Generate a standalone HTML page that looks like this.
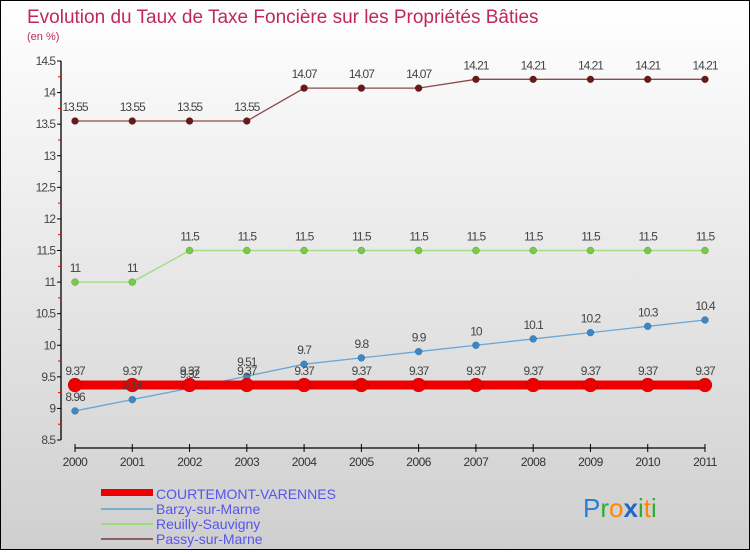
<!DOCTYPE html>
<html><head><meta charset="utf-8"><style>
html,body{margin:0;padding:0}
body{width:750px;height:550px;overflow:hidden;font-family:"Liberation Sans",sans-serif}
#wrap{position:relative;width:748px;height:548px;border:1px solid #000;background:linear-gradient(#ffffff,#cfcfcf)}
</style></head><body>
<div id="wrap">
<svg id="chart" width="748" height="548" xmlns="http://www.w3.org/2000/svg">
<text x="26" y="22" font-size="19" fill="#c0285a">Evolution du Taux de Taxe Foncière sur les Propriétés Bâties</text>
<text x="26" y="39" font-size="11" fill="#c0285a">(en %)</text>
<g id="axes"></g>
<g id="series"></g>
<g id="labels"></g>
<g id="legend" font-size="14" fill="#5555ee">
<rect x="100" y="488" width="52" height="7" fill="#ee0000"/>
<text x="155" y="498">COURTEMONT-VARENNES</text>
<rect x="100" y="507" width="52" height="2" fill="#7aaed0"/>
<text x="155" y="513">Barzy-sur-Marne</text>
<rect x="100" y="522" width="52" height="2" fill="#99dd77"/>
<text x="155" y="528">Reuilly-Sauvigny</text>
<rect x="100" y="537" width="52" height="2" fill="#8b6060"/>
<text x="155" y="543">Passy-sur-Marne</text>
</g>
<g font-size="26">
<text x="582" y="516"><tspan fill="#2a7fd0">P</tspan><tspan fill="#33aa33">r</tspan><tspan fill="#ff8800">o</tspan><tspan fill="#2266cc" font-weight="bold">x</tspan><tspan fill="#33aa33">i</tspan><tspan fill="#ff8800">t</tspan><tspan fill="#33aa33">i</tspan></text>
</g>
</svg>
</div>
<script>
const years=["2000","2001","2002","2003","2004","2005","2006","2007","2008","2009","2010","2011"];
const yTicks=[8.5,9,9.5,10,10.5,11,11.5,12,12.5,13,13.5,14,14.5];
const courtemont=[9.37,9.37,9.37,9.37,9.37,9.37,9.37,9.37,9.37,9.37,9.37,9.37];
const barzy=[8.96,9.14,9.32,9.51,9.7,9.8,9.9,10,10.1,10.2,10.3,10.4];
const reuilly=[11,11,11.5,11.5,11.5,11.5,11.5,11.5,11.5,11.5,11.5,11.5];
const passy=[13.55,13.55,13.55,13.55,14.07,14.07,14.07,14.21,14.21,14.21,14.21,14.21];
const NS="http://www.w3.org/2000/svg";
const X=i=>74+i*(630/11);
const Y=v=>60+(14.5-v)*(379/6);
function mk(tag,attrs,parent){const e=document.createElementNS(NS,tag);for(const k in attrs)e.setAttribute(k,attrs[k]);parent.appendChild(e);return e;}
const axes=document.getElementById('axes');
let a=mk('line',{x1:60,y1:Y(14.5),x2:60,y2:Y(8.5),stroke:'#000','stroke-width':1.3},axes);


yTicks.forEach((v,k)=>{
  mk('line',{x1:56,y1:Y(v),x2:60,y2:Y(v),stroke:'#000'},axes);
  if(k<yTicks.length-1) mk('line',{x1:57,y1:Y(v+0.25),x2:60,y2:Y(v+0.25),stroke:'#e00'},axes);
  const t=mk('text',{x:54,y:Y(v)+4,'font-size':12,fill:'#444','text-anchor':'end','letter-spacing':'-1'},axes);
  t.textContent=String(v);
  
  
});
a=mk('line',{x1:X(0),y1:447,x2:X(11),y2:447,stroke:'#000','stroke-width':1.3},axes);


years.forEach((y,i)=>{
  mk('line',{x1:X(i),y1:443,x2:X(i),y2:451,stroke:'#000'},axes);
  const t=mk('text',{x:X(i),y:465,'font-size':12,fill:'#333','text-anchor':'middle','letter-spacing':'-0.5'},axes);
  t.textContent=y;
  
  
});
const ser=document.getElementById('series');
const lab=document.getElementById('labels');
function draw(vals,name,color,dot,sw,r){
  const g=mk('g',{},ser);
  
  
  const l=mk('polyline',{points:vals.map((v,i)=>X(i)+','+Y(v)).join(' '),fill:'none',stroke:color,'stroke-width':sw},g);
  
  
  vals.forEach((v,i)=>{
    const c=mk('circle',{cx:X(i),cy:Y(v),r:r,fill:dot,stroke:'rgba(0,0,0,0.3)','stroke-width':0.5},g);
    
    
    const t=mk('text',{x:X(i),y:Y(v)-10,'font-size':12,fill:'#444','text-anchor':'middle','letter-spacing':'-1'},lab);
    t.textContent=String(v);
    
    
  });
}
draw(passy,'passy','#8b4a4a','#6b1818',1.3,3.5);
draw(reuilly,'reuilly','#a8dd88','#77cc44',1.5,3.5);
draw(barzy,'barzy','#6aa6d6','#3a88c8',1.3,3.5);
draw(courtemont,'courtemont','#ee0000','#ee0000',9,7);
</script>
</body></html>
